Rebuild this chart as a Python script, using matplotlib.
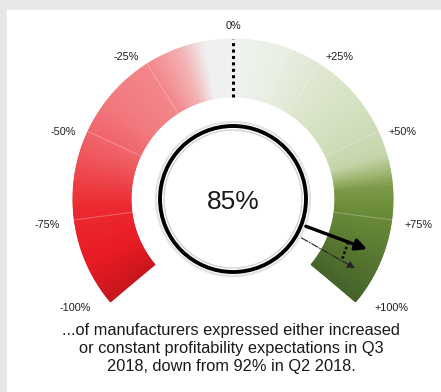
import numpy as np
import matplotlib
matplotlib.use('Agg')
import matplotlib.pyplot as plt
from matplotlib.colors import LinearSegmentedColormap
from matplotlib.patches import Circle, Rectangle

plt.rcParams['font.family'] = ['Liberation Sans', 'DejaVu Sans']

# data
current_value = 85      # Q3 2018
previous_value = 92     # Q2 2018
tick_values = [-100, -75, -50, -25, 0, 25, 50, 75, 100]
tick_labels = ['-100%', '-75%', '-50%', '-25%', '0%', '+25%', '+50%', '+75%', '+100%']
caption = ['...of manufacturers expressed either increased',
           'or constant profitability expectations in Q3',
           '2018, down from 92% in Q2 2018.']

# colour stops along the gauge (value -> colour)
stop_values = [-100, -88, -72, -55, -40, -25, -15, -8, 0, 15, 25, 45, 57, 62, 66, 74, 100]
stop_colors = ['#c9161e', '#e81b24', '#ec2a31', '#ef5c62', '#f17a7f', '#f2878b',
               '#f3b3b5', '#eff0f0', '#f0f2f1', '#e9efe3', '#dfe9d2', '#d2dfbe',
               '#c5d5aa', '#a0b874', '#7c9a4a', '#6a8b38', '#46642a']

W, H = 441, 392
fig = plt.figure(figsize=(W / 100, H / 100), dpi=100, facecolor='#e6e7e9')
ax = fig.add_axes([0, 0, 1, 1])
ax.set_xlim(0, W)
ax.set_ylim(0, H)
ax.axis('off')

# white panel
ax.add_patch(Rectangle((7, 0), W - 7, H - 10, color='white', zorder=0))

cx, cy = 233, 193
r_in, r_out = 102, 160


def ang(v):
    return np.radians(90 - v * 1.3)


# gradient arc
cmap = LinearSegmentedColormap.from_list(
    'gauge', [((v + 100) / 200, c) for v, c in zip(stop_values, stop_colors)])
vv = np.linspace(-100, 100, 521)
rr = np.array([r_in, r_out])
V, R = np.meshgrid(vv, rr)
X = cx + R * np.cos(ang(V))
Y = cy + R * np.sin(ang(V))
ax.pcolormesh(X, Y, V, cmap=cmap, shading='gouraud', vmin=-100, vmax=100, zorder=1)

# faint separators
for v in [-75, -50, -25, 25, 50, 75]:
    a = ang(v)
    ax.plot([cx + r_in * np.cos(a), cx + r_out * np.cos(a)],
            [cy + r_in * np.sin(a), cy + r_out * np.sin(a)],
            color='white', alpha=0.25, lw=0.8, zorder=2)

# zero line
ax.plot([cx, cx], [cy + r_in, cy + r_out], color='black', lw=2.2,
        ls=(0, (1, 1.1)), zorder=3)

# tick labels (nudged in angle like the original layout)
nudge = {0: 0, 25: 4.5, 50: 3.3, 75: 0.5, 100: -5.5}
for v, lab in zip(tick_values, tick_labels):
    a = ang(v) - np.sign(v) * np.radians(nudge[abs(v)])
    r = 173 + 19 * abs(v) / 100
    ax.text(cx + r * np.cos(a), cy + r * np.sin(a), lab, ha='center', va='center',
            fontsize=7.8, color='#1e1e1e')

# centre circle
ax.add_patch(Circle((cx, cy), 77, fc='none', ec='#e2e2e2', lw=1.6, zorder=4))
ax.add_patch(Circle((cx, cy), 73, fc='white', ec='black', lw=2.8, zorder=5))
ax.add_patch(Circle((cx, cy), 69, fc='none', ec='#d2d2d2', lw=1.0, zorder=5))
ax.text(cx, cy - 3, f'{current_value}%', ha='center', va='center', fontsize=19,
        color='#1a1a1a', zorder=6)

# previous value arrow (dash-dot)
a_prev = ang(previous_value)
ax.annotate('', xy=(cx + 143 * np.cos(a_prev), cy + 143 * np.sin(a_prev)),
            xytext=(cx + 76 * np.cos(a_prev), cy + 76 * np.sin(a_prev)),
            arrowprops=dict(arrowstyle='-|>', lw=0.8, ls='-.', color='#222222',
                            mutation_scale=11), zorder=6)

# current value arrow
a_cur = ang(current_value)
ax.annotate('', xy=(cx + 146 * np.cos(a_cur), cy + 146 * np.sin(a_cur)),
            xytext=(cx + 75 * np.cos(a_cur), cy + 75 * np.sin(a_cur)),
            arrowprops=dict(arrowstyle='-|>', lw=2.4, color='black',
                            mutation_scale=17), zorder=7)

# dotted connector showing the change
ax.plot([cx + 123 * np.cos(a_cur), cx + 125 * np.cos(a_prev)],
        [cy + 123 * np.sin(a_cur), cy + 125 * np.sin(a_prev)],
        color='black', lw=1.8, ls=(0, (1, 1)), zorder=6)

# caption
for i, line in enumerate(caption):
    ax.text(231, 62 - i * 18.5, line, ha='center', va='center', fontsize=11.8,
            color='#1a1a1a')

fig.savefig('out.png', dpi=100, facecolor=fig.get_facecolor())
